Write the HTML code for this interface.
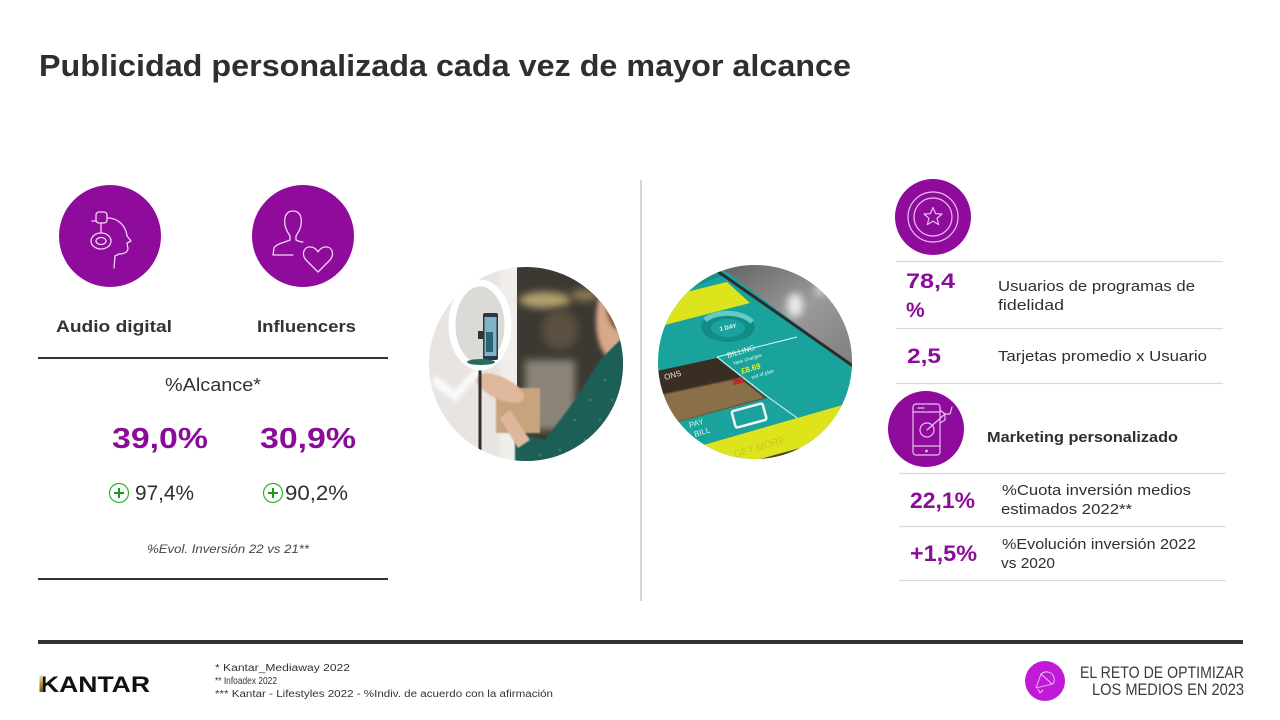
<!DOCTYPE html>
<html>
<head>
<meta charset="utf-8">
<style>
  html,body{margin:0;padding:0;background:#fff;}
  svg{display:block;}
  text{font-family:"Liberation Sans", sans-serif;}
</style>
</head>
<body>
<svg width="1280" height="720" viewBox="0 0 1280 720" xmlns="http://www.w3.org/2000/svg">
  <defs>
    <clipPath id="c1"><circle cx="526" cy="364" r="97"/></clipPath>
    <clipPath id="c2"><circle cx="755" cy="362" r="97"/></clipPath>
    <filter id="b4" x="-50%" y="-50%" width="200%" height="200%"><feGaussianBlur stdDeviation="4"/></filter>
    <filter id="b2" x="-50%" y="-50%" width="200%" height="200%"><feGaussianBlur stdDeviation="2"/></filter>
    <filter id="b1" x="-50%" y="-50%" width="200%" height="200%"><feGaussianBlur stdDeviation="0.8"/></filter>
    <linearGradient id="gray" x1="0" y1="0" x2="1" y2="1">
      <stop offset="0" stop-color="#5d5d5d"/>
      <stop offset="0.5" stop-color="#9a9a9a"/>
      <stop offset="1" stop-color="#7a7a7a"/>
    </linearGradient>
    <linearGradient id="gold" x1="0" y1="0" x2="0" y2="1">
      <stop offset="0" stop-color="#e8d9a0"/>
      <stop offset="0.5" stop-color="#b8953c"/>
      <stop offset="1" stop-color="#6b5420"/>
    </linearGradient>
  </defs>

  <!-- Title -->
  <text x="39" y="76" font-size="31" font-weight="bold" fill="#2f2f2f" textLength="812" lengthAdjust="spacingAndGlyphs">Publicidad personalizada cada vez de mayor alcance</text>

  <!-- LEFT SECTION -->
  <circle cx="110" cy="236" r="51" fill="#8e0b9c"/>
  <g fill="none" stroke="#f3d6f5" stroke-width="1.3" stroke-linecap="round" stroke-linejoin="round">
    <!-- head profile -->
    <path d="M108 218 C118 218 126 226 127 236 L131 241 L127 243 L128 249 C127 253 123 254 119 254 L115 256 L114 268"/>
    <!-- mic -->
    <rect x="96" y="212" width="11" height="11" rx="3"/>
    <path d="M92 221 L96 221"/>
    <path d="M101 223 L101 232"/>
    <ellipse cx="101" cy="241" rx="10" ry="8"/>
    <ellipse cx="101" cy="241" rx="5" ry="3.5"/>
  </g>

  <circle cx="303" cy="236" r="51" fill="#8e0b9c"/>
  <g fill="none" stroke="#f3d6f5" stroke-width="1.3" stroke-linecap="round" stroke-linejoin="round">
    <path d="M293 211 C285 211 284 219 285 225 C286 231 289 234 290 236 L290 240 C283 243 276 244 274 248 L273 255 L293 255"/>
    <path d="M293 211 C301 211 302 219 301 225 C300 231 297 234 296 236 L296 240 C298 241 300 242 303 242"/>
    <path d="M318 272 L306 260 C301 254 304 246 311 247 C314 247 317 250 318 252 C319 250 322 247 325 247 C332 246 335 254 330 260 Z"/>
  </g>

  <text x="56" y="332" font-size="17" font-weight="bold" fill="#333" textLength="116" lengthAdjust="spacingAndGlyphs">Audio digital</text>
  <text x="257" y="332" font-size="17" font-weight="bold" fill="#333" textLength="99" lengthAdjust="spacingAndGlyphs">Influencers</text>

  <line x1="38" y1="358" x2="388" y2="358" stroke="#333" stroke-width="2"/>

  <text x="165" y="391" font-size="18" fill="#333" textLength="96" lengthAdjust="spacingAndGlyphs">%Alcance*</text>

  <text x="112" y="448" font-size="29" font-weight="bold" fill="#8a0d99" textLength="96" lengthAdjust="spacingAndGlyphs">39,0%</text>
  <text x="260" y="448" font-size="29" font-weight="bold" fill="#8a0d99" textLength="96" lengthAdjust="spacingAndGlyphs">30,9%</text>

  <g fill="none" stroke="#2bb52b" stroke-width="1.2">
    <circle cx="119" cy="493" r="9.5"/>
    <circle cx="273" cy="493" r="9.5"/>
  </g>
  <g stroke="#1c9a1c" stroke-width="2">
    <line x1="114" y1="493" x2="124" y2="493"/><line x1="119" y1="488" x2="119" y2="498"/>
    <line x1="268" y1="493" x2="278" y2="493"/><line x1="273" y1="488" x2="273" y2="498"/>
  </g>
  <text x="135" y="500" font-size="21" fill="#2f2f2f" textLength="59" lengthAdjust="spacingAndGlyphs">97,4%</text>
  <text x="285" y="500" font-size="21" fill="#2f2f2f" textLength="63" lengthAdjust="spacingAndGlyphs">90,2%</text>

  <text x="147" y="553" font-size="12" font-style="italic" fill="#444" textLength="162" lengthAdjust="spacingAndGlyphs">%Evol.  Inversión 22 vs 21**</text>

  <line x1="38" y1="579" x2="388" y2="579" stroke="#333" stroke-width="2"/>

  <!-- PHOTO 1 -->
  <g clip-path="url(#c1)">
    <rect x="425" y="262" width="205" height="205" fill="#e7e4e1"/>
    <rect x="500" y="262" width="20" height="205" fill="#f1efec" filter="url(#b2)"/>
    <rect x="517" y="262" width="110" height="205" fill="#3c3932"/>
    <ellipse cx="545" cy="300" rx="26" ry="8" fill="#b6a26e" filter="url(#b4)"/>
    <ellipse cx="585" cy="295" rx="14" ry="6" fill="#8c7a52" filter="url(#b4)"/>
    <rect x="525" y="360" width="50" height="70" fill="#8b8478" filter="url(#b4)"/>
    <ellipse cx="560" cy="330" rx="18" ry="20" fill="#5a5040" filter="url(#b4)"/>
    <!-- woman face -->
    <ellipse cx="612" cy="320" rx="16" ry="38" fill="#d7a88a" filter="url(#b2)"/>
    <ellipse cx="620" cy="300" rx="14" ry="30" fill="#6a4a35" filter="url(#b2)"/>
    <!-- sleeve -->
    <path d="M515 432 L545 440 L575 400 L600 360 L625 335 L630 470 L515 470 Z" fill="#1f5f56" filter="url(#b1)"/>
    <g fill="#3f8a80" opacity="0.7">
      <circle cx="575" cy="420" r="1.5"/><circle cx="590" cy="400" r="1.5"/><circle cx="605" cy="380" r="1.5"/>
      <circle cx="585" cy="440" r="1.5"/><circle cx="600" cy="420" r="1.5"/><circle cx="612" cy="400" r="1.5"/>
      <circle cx="560" cy="450" r="1.5"/><circle cx="540" cy="455" r="1.5"/>
    </g>
    <!-- box -->
    <rect x="496" y="388" width="44" height="45" fill="#c7a47e" filter="url(#b1)"/>
    <!-- hand -->
    <ellipse cx="500" cy="388" rx="26" ry="11" fill="#dfb79d" transform="rotate(25 500 388)" filter="url(#b1)"/>
    <path d="M510 410 L530 440 L518 448 L500 418 Z" fill="#dfb79d" filter="url(#b1)"/>
    <!-- glare on wall -->
    <path d="M435 375 L455 390 L478 365 L482 372 L456 402 L432 385 Z" fill="#ffffff" opacity="0.8" filter="url(#b2)"/>
    <!-- stand -->
    <line x1="480" y1="370" x2="480" y2="465" stroke="#2e2e2e" stroke-width="3"/>
    <!-- ring light -->
    <ellipse cx="480" cy="325" rx="28" ry="42" fill="#dcdad6"/>
    <ellipse cx="480" cy="325" rx="28" ry="42" fill="none" stroke="#ffffff" stroke-width="7"/>
    <!-- phone -->
    <rect x="483" y="313" width="15" height="47" rx="2" fill="#2a3a44"/>
    <rect x="484.5" y="317" width="12" height="39" fill="#7fb3c8"/>
    <rect x="486" y="332" width="7" height="20" fill="#2a6470"/>
    <rect x="478" y="331" width="5" height="8" fill="#333"/>
    <ellipse cx="481" cy="362" rx="14" ry="3" fill="#2a6a5e"/>
  </g>

  <!-- Divider -->
  <line x1="641" y1="180" x2="641" y2="601" stroke="#cac8bd" stroke-width="1.5"/>

  <!-- PHOTO 2 -->
  <g clip-path="url(#c2)">
    <rect x="650" y="255" width="215" height="215" fill="#1aa39c"/>
    <!-- top teal strip -->
    <path d="M650 290 L715 268 L725 275 L655 300 Z" fill="#168f88"/>
    <!-- top yellow band -->
    <path d="M650 301 L727 282 L750 303 L657 327 Z" fill="#dde41c"/>
    <!-- gray top-right -->
    <path d="M713 262 L870 262 L870 368 L853 366 Z" fill="url(#gray)"/>
    <ellipse cx="795" cy="305" rx="8" ry="12" fill="#ffffff" opacity="0.8" filter="url(#b4)"/>
    <ellipse cx="820" cy="290" rx="6" ry="6" fill="#ffffff" opacity="0.5" filter="url(#b4)"/>
    <line x1="713" y1="268" x2="853" y2="366" stroke="#2c2c2c" stroke-width="3"/>
    <!-- gauge -->
    <ellipse cx="728" cy="327" rx="27" ry="15" fill="#148c86"/>
    <path d="M705 320 A27 15 0 0 1 752 322" fill="none" stroke="#63cdc4" stroke-width="5"/>
    <ellipse cx="728" cy="328" rx="17" ry="9" fill="#1aa39c"/>
    <text x="720" y="331" font-size="6" font-weight="bold" fill="#e8f8f6" transform="rotate(-12 720 331)">1 DAY</text>
    <!-- separator line -->
    <line x1="717" y1="357" x2="797" y2="337" stroke="#e6f6f4" stroke-width="1"/>
    <line x1="717" y1="357" x2="768" y2="397" stroke="#e6f6f4" stroke-width="1"/>
    <line x1="768" y1="397" x2="800" y2="420" stroke="#e6f6f4" stroke-width="1"/>
    <!-- dark image panel -->
    <path d="M652 372 L717 358 L767 398 L670 424 Z" fill="#3a2e24"/>
    <path d="M660 395 L740 378 L765 398 L670 424 Z" fill="#8a6f48" filter="url(#b1)"/>
    <rect x="733" y="378" width="10" height="6" fill="#b03030" transform="rotate(-15 738 381)"/>
    <text x="665" y="380" font-size="8" fill="#e6e6e6" transform="rotate(-15 665 380)">ONS</text>
    <!-- billing text -->
    <text x="728" y="358" font-size="7.5" fill="#e8f8f6" transform="rotate(-17 728 358)">BILLING</text>
    <text x="734" y="365" font-size="5" fill="#e8f8f6" transform="rotate(-17 734 365)">New charges</text>
    <text x="742" y="374" font-size="8" font-weight="bold" fill="#e3f02a" transform="rotate(-17 742 374)">£8.69</text>
    <text x="752" y="379" font-size="5" fill="#e8f8f6" transform="rotate(-17 752 379)">out of plan</text>
    <!-- card icon -->
    <rect x="733" y="407" width="32" height="17" rx="2" fill="none" stroke="#f2f7f6" stroke-width="2.5" transform="rotate(-15 749 415)"/>
    <text x="690" y="428" font-size="8" fill="#dff4f2" transform="rotate(-17 690 428)">PAY</text>
    <text x="695" y="437" font-size="8" fill="#dff4f2" transform="rotate(-17 695 437)">BILL</text>
    <!-- bottom yellow -->
    <path d="M700 446 L853 402 L870 402 L870 475 L700 475 Z" fill="#dde41c"/>
    <text x="735" y="458" font-size="10" fill="#c8c820" transform="rotate(-17 735 458)">GET MORE</text>
    <path d="M720 470 L800 448 L870 448 L870 475 L720 475 Z" fill="#2a2a22" opacity="0.85"/>
  </g>

  <!-- RIGHT SECTION -->
  <circle cx="933" cy="217" r="38" fill="#8e0b9c"/>
  <g fill="none" stroke="#e9bff0" stroke-width="1.2">
    <circle cx="933" cy="217" r="25"/>
    <circle cx="933" cy="217" r="19"/>
    <path d="M933 207.5 L935.6 213.6 L942 214 L937 218.3 L938.7 224.6 L933 221.2 L927.3 224.6 L929 218.3 L924 214 L930.4 213.6 Z" stroke-linejoin="round"/>
  </g>

  <line x1="896" y1="261.5" x2="1223" y2="261.5" stroke="#d9d9d9" stroke-width="1.2"/>
  <text x="906" y="288" font-size="21" font-weight="bold" fill="#8a0d99" textLength="49" lengthAdjust="spacingAndGlyphs">78,4</text>
  <text x="906" y="317" font-size="21" font-weight="bold" fill="#8a0d99">%</text>
  <text x="998" y="291" font-size="15" fill="#2f2f2f" textLength="197" lengthAdjust="spacingAndGlyphs">Usuarios de programas de</text>
  <text x="998" y="310" font-size="15" fill="#2f2f2f" textLength="66" lengthAdjust="spacingAndGlyphs">fidelidad</text>
  <line x1="896" y1="328.5" x2="1223" y2="328.5" stroke="#d9d9d9" stroke-width="1.2"/>
  <text x="907" y="363" font-size="21" font-weight="bold" fill="#8a0d99" textLength="34" lengthAdjust="spacingAndGlyphs">2,5</text>
  <text x="998" y="361" font-size="15" fill="#2f2f2f" textLength="209" lengthAdjust="spacingAndGlyphs">Tarjetas promedio x Usuario</text>
  <line x1="896" y1="383.5" x2="1223" y2="383.5" stroke="#d9d9d9" stroke-width="1.2"/>

  <circle cx="926" cy="429" r="38" fill="#8e0b9c"/>
  <g fill="none" stroke="#e9bff0" stroke-width="1.2" stroke-linecap="round" stroke-linejoin="round">
    <rect x="913" y="404" width="27" height="51" rx="3"/>
    <line x1="913" y1="412" x2="940" y2="412"/>
    <line x1="913" y1="446" x2="940" y2="446"/>
    <line x1="918" y1="408" x2="924" y2="408"/>
    <circle cx="926.5" cy="451" r="0.8"/>
    <circle cx="927" cy="430" r="7"/>
    <path d="M927 430 L945 414"/>
    <path d="M940 410 L945 414 L950 414 L952 407 M945 414 L945 420 L940 423"/>
  </g>
  <text x="987" y="442" font-size="15" font-weight="bold" fill="#2f2f2f" textLength="191" lengthAdjust="spacingAndGlyphs">Marketing personalizado</text>

  <line x1="899" y1="473.5" x2="1226" y2="473.5" stroke="#d9d9d9" stroke-width="1.2"/>
  <text x="910" y="508" font-size="22" font-weight="bold" fill="#8a0d99" textLength="65" lengthAdjust="spacingAndGlyphs">22,1%</text>
  <text x="1002" y="495" font-size="15" fill="#2f2f2f" textLength="189" lengthAdjust="spacingAndGlyphs">%Cuota inversión medios</text>
  <text x="1001" y="514" font-size="15" fill="#2f2f2f" textLength="131" lengthAdjust="spacingAndGlyphs">estimados 2022**</text>
  <line x1="899" y1="526.5" x2="1226" y2="526.5" stroke="#d9d9d9" stroke-width="1.2"/>
  <text x="910" y="561" font-size="22" font-weight="bold" fill="#8a0d99" textLength="67" lengthAdjust="spacingAndGlyphs">+1,5%</text>
  <text x="1002" y="549" font-size="15" fill="#2f2f2f" textLength="194" lengthAdjust="spacingAndGlyphs">%Evolución inversión 2022</text>
  <text x="1001" y="568" font-size="15" fill="#2f2f2f" textLength="54" lengthAdjust="spacingAndGlyphs">vs 2020</text>
  <line x1="899" y1="580.5" x2="1226" y2="580.5" stroke="#d9d9d9" stroke-width="1.2"/>

  <!-- FOOTER -->
  <rect x="38" y="640" width="1205" height="4" fill="#333"/>

  <text x="40" y="692" font-size="22.5" font-weight="bold" fill="#111" textLength="110" lengthAdjust="spacingAndGlyphs">KANTAR</text>
  <rect x="39.5" y="675.5" width="3.4" height="16.5" fill="url(#gold)"/>

  <text x="215" y="671" font-size="10" fill="#333" textLength="135" lengthAdjust="spacingAndGlyphs">*   Kantar_Mediaway 2022</text>
  <text x="215" y="684" font-size="10" fill="#333" textLength="62" lengthAdjust="spacingAndGlyphs">**  Infoadex 2022</text>
  <text x="215" y="697" font-size="10" fill="#333" textLength="338" lengthAdjust="spacingAndGlyphs">*** Kantar - Lifestyles 2022 - %Indiv. de acuerdo con la afirmación</text>

  <circle cx="1045" cy="681" r="20" fill="#c01ad6"/>
  <g fill="none" stroke="#f4c8f8" stroke-width="0.9" stroke-linejoin="round">
    <path d="M1036 688 L1041 674 L1052 684 Z"/>
    <path d="M1041 674 C1046 670 1053 672 1054 678 C1055 682 1053 684 1052 684"/>
    <path d="M1038 689 L1040 693 L1043 690"/>
  </g>
  <text x="1244" y="678" font-size="17" fill="#3a3a3a" text-anchor="end" textLength="164" lengthAdjust="spacingAndGlyphs">EL RETO DE OPTIMIZAR</text>
  <text x="1244" y="695" font-size="17" fill="#3a3a3a" text-anchor="end" textLength="152" lengthAdjust="spacingAndGlyphs">LOS MEDIOS EN 2023</text>
</svg>
</body>
</html>
